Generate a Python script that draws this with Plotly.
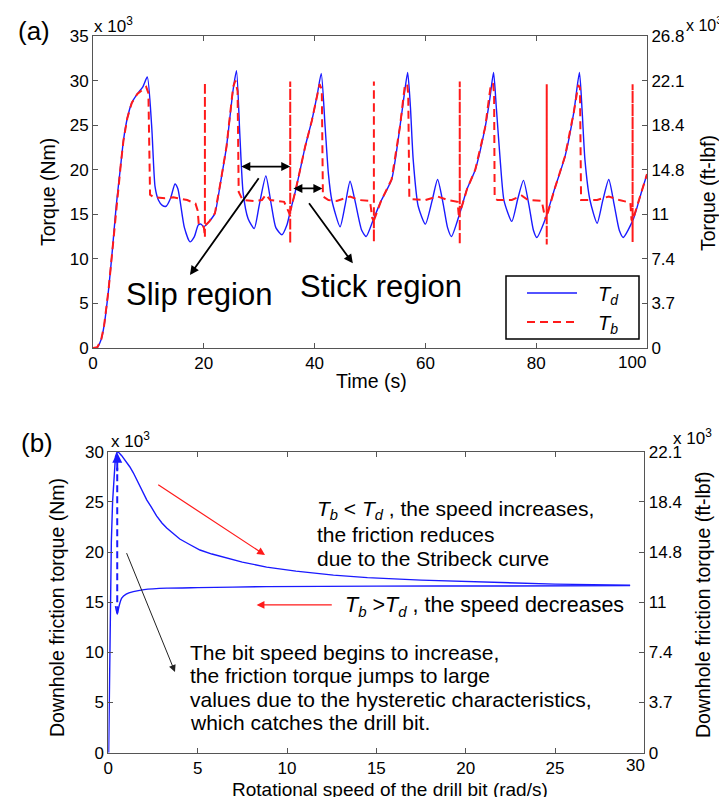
import plotly.graph_objects as go

# The page body adds an 8 px margin on every side, so the figure is made smaller
# (no page overflow / scrollbar) and every reference pixel position is shifted by 8 px.
VW, VH = 727, 805
OFF = 8
W, H = VW - OFF, VH - 2 * OFF
FONT = "Liberation Sans, Arial, Helvetica, sans-serif"
BLUE = "#1a1aff"
RED = "#ff1a1a"
AXC = "#555555"

# ---------------- Panel (a): torque vs time (x10^3 Nm) ----------------
time_td = [0, 0.8, 1.5, 2.0, 2.8, 3.5, 4.2, 5.0, 5.5, 6.2, 7.0, 8.0, 9.0, 9.8,
           10.6, 11.2, 11.8, 12.5, 13.2, 14.0, 14.8, 15.3, 15.7, 16.5, 17.5, 18.3, 19.0, 19.5, 20.0,
           21.0, 22.0, 23.0, 24.1, 25.3, 25.9,
           26.5, 27.1, 28.0, 29.1, 30.0, 31.2, 32.2, 33.0, 34.1, 35.0, 35.6,
           36.5, 37.4, 38.3, 39.5, 40.5, 41.2,
           41.9, 42.5, 43.1, 44.6, 45.5, 46.4, 47.3, 48.5, 49.3, 50.6,
           52.0, 53.9, 55.4, 56.2, 56.8,
           57.3, 57.8, 58.7, 60.0, 61.2, 62.2, 63.2, 64.0, 64.7, 66.2,
           67.5, 69.0, 70.8, 71.6, 72.3,
           72.8, 73.5, 74.2, 75.6, 76.7, 77.7, 78.7, 79.5, 80.1, 81.6,
           83.3, 85.2, 86.8, 87.8,
           88.3, 88.8, 89.7, 91.0, 92.0, 93.1, 94.1, 95.0, 95.7, 97.5, 99.0, 100]
torque_td = [0, 0.1, 1.0, 2.5, 6.5, 11.0, 16.0, 20.5, 23.3, 25.8, 27.5, 28.5, 29.3, 30.4,
             24.8, 18.1, 16.6, 16.0, 15.9, 16.8, 18.4, 17.9, 16.6, 13.5, 11.9, 12.5, 13.8, 13.9, 13.6,
             14.2, 15.1, 18.5, 22.6, 29.0, 31.1,
             24.0, 17.4, 14.5, 13.4, 16.0, 19.3, 16.0, 13.5, 12.7, 13.8, 15.3,
             17.5, 20.0, 22.6, 25.5, 28.5, 30.8,
             24.8, 19.5, 16.6, 13.6, 16.0, 18.7, 16.5, 13.2, 12.5, 14.4,
             16.5, 18.9, 24.8, 28.5, 30.9,
             27.0, 21.1, 15.9, 13.9, 16.5, 18.9, 16.2, 13.5, 12.5, 15.1,
             17.8, 20.0, 24.8, 27.8, 30.9,
             27.0, 21.1, 16.5, 14.2, 16.8, 18.8, 16.0, 13.2, 12.4, 14.4,
             17.8, 21.5, 26.5, 30.9,
             26.5, 21.1, 16.6, 14.0, 16.5, 18.9, 16.0, 13.2, 12.4, 14.4, 17.5, 19.5]

time_tb = [0, 0.8, 1.5, 2.0, 2.8, 3.5, 4.2, 5.0, 5.5, 6.2, 7.0, 8.0, 9.0, 9.6, 10.0,
           10.3, 11.0, 13.0, 14.5, 15.5, 17.0, 18.5, 18.9, 19.1, 20.0,
           20.2, 20.2, 20.2,
           21.0, 22.0, 23.0, 24.1, 25.3, 25.7, 26.1,
           26.3, 27.0, 29.0, 30.5, 31.2, 32.0, 33.2, 34.5, 35.3,
           35.6, 35.6, 35.6, 35.6,
           36.5, 37.4, 38.3, 39.5, 40.5, 40.9, 41.3,
           41.5, 42.5, 44.0, 46.4, 48.0, 50.0, 50.4,
           50.7, 50.7, 50.7, 50.7,
           52.0, 53.9, 55.4, 56.3, 56.7, 56.9,
           57.1, 57.5, 60.0, 62.2, 64.0, 65.8, 66.0,
           66.2, 66.2, 66.2, 66.2,
           67.5, 69.0, 70.8, 71.8, 72.2, 72.4,
           72.5, 73.0, 75.6, 77.4, 78.5, 81.0, 81.6,
           81.9, 81.9, 81.9, 81.9,
           83.3, 85.2, 86.8, 87.6, 87.9,
           88.1, 89.0, 91.0, 93.1, 95.0, 97.0, 97.2,
           97.4, 97.4, 97.4, 97.4,
           99.0, 100]
torque_tb = [0, 0.1, 1.0, 2.5, 6.5, 11.0, 16.0, 20.5, 23.3, 25.8, 27.5, 28.5, 29.0, 29.3, 28.6,
             17.2, 16.9, 16.8, 16.9, 16.8, 16.6, 16.2, 15.4, 13.8, 13.6,
             12.4, 29.8, 13.7,
             14.2, 15.1, 18.5, 22.6, 29.3, 30.0, 28.8,
             17.5, 16.6, 16.5, 16.6, 17.2, 16.6, 16.5, 16.4, 15.3,
             14.8, 11.7, 29.9, 15.3,
             17.5, 20.0, 22.6, 25.5, 28.5, 29.6, 29.0,
             17.0, 16.6, 16.5, 17.0, 16.6, 16.5, 14.6,
             14.2, 11.9, 29.9, 14.3,
             16.5, 18.9, 24.8, 29.5, 29.6, 28.5,
             16.8, 16.7, 16.6, 17.0, 16.6, 16.4, 15.0,
             14.9, 11.6, 29.9, 15.1,
             17.8, 20.0, 24.8, 29.5, 29.7, 28.5,
             16.8, 16.6, 16.6, 17.1, 16.6, 16.5, 14.6,
             14.5, 11.6, 29.6, 14.7,
             17.8, 21.5, 26.5, 29.5, 29.2,
             16.6, 16.6, 16.6, 17.0, 16.6, 16.3, 14.4,
             14.2, 11.9, 29.6, 14.3,
             17.5, 19.5]

a_x_ticks = [0, 20, 40, 60, 80, 100]
a_x_ticktext = ["0", "20", "40", "60", "80", ""]   # last label drawn separately (shifted left)
a_x_last_label = "100"
a_y_ticks = [0, 5, 10, 15, 20, 25, 30, 35]
a_right_ticktext = ["0", "3.7", "7.4", "11", "14.8", "18.4", "22.1", "26.8"]

# annotation arrows of panel (a) (data coordinates)
slip_span_t = [26.5, 35.6]
slip_span_v = 20.35
stick_span_t = [35.9, 41.4]
stick_span_v = 17.9
slip_arrow = dict(tail=(30.1, 19.2), head=(17.5, 8.2))
stick_arrow = dict(tail=(38.8, 16.4), head=(46.9, 9.5))

# ---------------- Panel (b): friction torque vs bit speed ----------------
speed_upper = [0.02, 0.05, 0.08, 0.12, 0.17, 0.24, 0.32, 0.4, 0.5, 0.6, 0.75, 1.0, 1.2, 1.4, 1.6,
               1.8, 2.0, 2.15, 2.4, 2.7, 3.0, 3.27, 3.6, 4.0, 4.5, 5.13, 5.8, 6.5, 7.5, 8.86,
               10.5, 12.6, 14.5, 17.5, 21.5, 25.0, 29.2]
torque_upper = [0, 5.0, 11.0, 17.0, 21.0, 25.0, 28.0, 29.5, 30.0, 29.9, 29.6, 29.0, 28.5, 27.9, 27.2,
                26.5, 25.8, 25.2, 24.5, 23.6, 22.9, 22.4, 21.9, 21.3, 20.8, 20.2, 19.8, 19.45, 19.0, 18.5,
                18.1, 17.7, 17.45, 17.2, 16.95, 16.8, 16.7]
speed_lower = [0.4, 0.5, 0.6, 0.75, 1.0, 1.4, 2.0, 3.27, 5.0, 8.86, 15.0, 22.0, 29.2]
torque_lower = [14.6, 13.8, 14.6, 15.4, 15.8, 16.05, 16.25, 16.4, 16.45, 16.55, 16.6, 16.62, 16.65]
speed_jump = [0.5, 0.5]
torque_jump = [13.9, 28.4]
jump_head = (0.5, 29.9)

b_x_ticks = [0, 5, 10, 15, 20, 25, 30]
b_x_ticktext = ["0", "5", "10", "15", "20", "25", ""]  # last label drawn separately (shifted left)
b_x_last_label = "30"
b_y_ticks = [0, 5, 10, 15, 20, 25, 30]
b_right_ticktext = ["0", "3.7", "7.4", "11", "14.8", "18.4", "22.1"]

red_arrow_1 = dict(tail=(2.71, 26.8), head=(8.77, 19.7))
red_arrow_2 = dict(tail=(12.59, 14.73), head=(8.30, 14.73))
black_arrow = dict(tail=(0.99, 20.04), head=(3.73, 8.05))

legend_labels = ["<i>T</i><sub><i>d</i></sub>", "<i>T</i><sub><i>b</i></sub>"]


def pxx(x):
    return (x - OFF) / W


def pyy(y):
    return 1 - (y - OFF) / H


fig = go.Figure()

fig.add_trace(go.Scatter(x=time_td, y=torque_td, mode="lines", name=legend_labels[0], showlegend=False,
                         line=dict(color=BLUE, width=1.4, shape="spline", smoothing=0.6),
                         xaxis="x", yaxis="y"))
fig.add_trace(go.Scatter(x=time_tb, y=torque_tb, mode="lines", name=legend_labels[1], showlegend=False,
                         line=dict(color=RED, width=2, dash="8px,5px"),
                         xaxis="x", yaxis="y"))
# transparent copy so that the right-hand (ft-lbf) axis of panel (a) is drawn
fig.add_trace(go.Scatter(x=time_td, y=torque_td, mode="lines", showlegend=False, hoverinfo="skip",
                         line=dict(color="rgba(0,0,0,0)", width=0), xaxis="x", yaxis="y3"))

fig.add_trace(go.Scatter(x=speed_upper, y=torque_upper, mode="lines", showlegend=False,
                         line=dict(color=BLUE, width=1.4),
                         xaxis="x2", yaxis="y2"))
fig.add_trace(go.Scatter(x=speed_lower, y=torque_lower, mode="lines", showlegend=False,
                         line=dict(color=BLUE, width=1.4, shape="spline", smoothing=0.5),
                         xaxis="x2", yaxis="y2"))
fig.add_trace(go.Scatter(x=speed_jump, y=torque_jump, mode="lines", showlegend=False,
                         line=dict(color=BLUE, width=2, dash="7px,4px"),
                         xaxis="x2", yaxis="y2"))
# transparent copy so that the right-hand (ft-lbf) axis of panel (b) is drawn
fig.add_trace(go.Scatter(x=speed_lower, y=torque_lower, mode="lines", showlegend=False, hoverinfo="skip",
                         line=dict(color="rgba(0,0,0,0)", width=0), xaxis="x2", yaxis="y4"))

axis_common = dict(showline=True, linecolor=AXC, linewidth=1, ticks="inside", ticklen=5,
                   tickcolor=AXC, showgrid=False, zeroline=False, automargin=False,
                   tickfont=dict(family=FONT, size=17, color="black"))

xa_dom = [pxx(93), pxx(647)]
ya_dom = [pyy(348), pyy(36)]
xb_dom = [pxx(108.3), pxx(644.4)]
yb_dom = [pyy(752.7), pyy(451.7)]

fig.update_layout(
    width=W, height=H, autosize=False,
    margin=dict(l=0, r=0, t=0, b=0, autoexpand=False),
    paper_bgcolor="white", plot_bgcolor="white",
    font=dict(family=FONT, color="black"),
    showlegend=False,
    xaxis=dict(axis_common, domain=xa_dom, range=[0, 100], tickvals=a_x_ticks, ticktext=a_x_ticktext,
               anchor="y", mirror="ticks"),
    yaxis=dict(axis_common, domain=ya_dom, range=[0, 35], tickvals=a_y_ticks, anchor="x"),
    yaxis3=dict(axis_common, overlaying="y", side="right", anchor="x", range=[0, 35],
                tickvals=a_y_ticks, ticktext=a_right_ticktext),
    xaxis2=dict(axis_common, domain=xb_dom, range=[0, 30], tickvals=b_x_ticks, ticktext=b_x_ticktext,
                anchor="y2", mirror="ticks"),
    yaxis2=dict(axis_common, domain=yb_dom, range=[0, 30], tickvals=b_y_ticks, anchor="x2"),
    yaxis4=dict(axis_common, overlaying="y2", side="right", anchor="x2", range=[0, 30],
                tickvals=b_y_ticks, ticktext=b_right_ticktext),
)

# legend box of panel (a), drawn in paper coordinates
shapes = [
    dict(type="rect", xref="paper", yref="paper", x0=pxx(506), x1=pxx(639), y0=pyy(339), y1=pyy(276),
         line=dict(color="black", width=1.5), fillcolor="white", layer="above"),
    dict(type="line", xref="paper", yref="paper", x0=pxx(527), x1=pxx(577), y0=pyy(293), y1=pyy(293),
         line=dict(color=BLUE, width=1.4), layer="above"),
    dict(type="line", xref="paper", yref="paper", x0=pxx(527), x1=pxx(577), y0=pyy(322), y1=pyy(322),
         line=dict(color=RED, width=2, dash="8px,5px"), layer="above"),
]

ann = []


def text(x, y, s, size, xanchor="center", yanchor="middle", angle=0):
    ann.append(dict(x=pxx(x), y=pyy(y), xref="paper", yref="paper", text=s, showarrow=False,
                    xanchor=xanchor, yanchor=yanchor, textangle=angle,
                    font=dict(family=FONT, size=size, color="black")))


text(596, 295, legend_labels[0], 20, xanchor="left")
text(596, 324, legend_labels[1], 20, xanchor="left")

text(632, 362, a_x_last_label, 17)
text(635, 765, b_x_last_label, 17)

text(34, 31, "(a)", 26)
text(37, 443, "(b)", 26)
text(92, 25, "x 10<sup>3</sup>", 17, xanchor="left")
text(684, 24, "x 10<sup>3</sup>", 16, xanchor="left")
text(109, 440, "x 10<sup>3</sup>", 17, xanchor="left")
text(671, 437, "x 10<sup>3</sup>", 17, xanchor="left")
text(48, 192, "Torque (Nm)", 19.5, angle=-90)
text(371, 381, "Time (s)", 19.5)
text(708, 193, "Torque (ft-lbf)", 19.5, angle=-90)
text(57, 608, "Downhole friction torque (Nm)", 19.5, angle=-90)
text(703, 605, "Downhole friction torque (ft-lbf)", 19.5, angle=-90)
text(390, 789, "Rotational speed of the drill bit (rad/s)", 19)
text(199, 294, "Slip region", 31)
text(381, 286, "Stick region", 31)

upper_lines = ["<i>T</i><sub><i>b</i></sub> &lt; <i>T</i><sub><i>d</i></sub> , the speed increases,",
               "the friction reduces", "due to the Stribeck curve"]
upper_y = [510, 534.5, 558]
for s, yy in zip(upper_lines, upper_y):
    text(315, yy, s, 21, xanchor="left")
text(343, 606, "<i>T</i><sub><i>b</i></sub> &gt;<i>T</i><sub><i>d</i></sub> , the speed decreases", 21.5, xanchor="left")
lower_lines = ["The bit speed begins to increase,", "the friction torque jumps to large",
               "values due to the hysteretic characteristics,", "which catches the drill bit."]
for i, s in enumerate(lower_lines):
    text(188, 652 + 23.5 * i, s, 21, xanchor="left")


def arrow(tail, head, xref, yref, color, width, head_style=2, size=1.0, both=False):
    ann.append(dict(x=head[0], y=head[1], ax=tail[0], ay=tail[1], xref=xref, yref=yref,
                    axref=xref, ayref=yref, showarrow=True, text="", arrowcolor=color,
                    arrowwidth=width, arrowhead=head_style, arrowsize=size,
                    arrowside="end+start" if both else "end", startarrowhead=head_style,
                    startarrowsize=size))


arrow((slip_span_t[0], slip_span_v), (slip_span_t[1], slip_span_v), "x", "y", "black", 1.8, 2, 1.0, both=True)
arrow((stick_span_t[0], stick_span_v), (stick_span_t[1], stick_span_v), "x", "y", "black", 1.8, 2, 1.0, both=True)
arrow(slip_arrow["tail"], slip_arrow["head"], "x", "y", "black", 1.8, 2, 1.0)
arrow(stick_arrow["tail"], stick_arrow["head"], "x", "y", "black", 1.8, 2, 1.0)
arrow(red_arrow_1["tail"], red_arrow_1["head"], "x2", "y2", RED, 1.2, 2, 1.3)
arrow(red_arrow_2["tail"], red_arrow_2["head"], "x2", "y2", RED, 1.2, 2, 1.3)
arrow(black_arrow["tail"], black_arrow["head"], "x2", "y2", "#222222", 1.0, 2, 1.4)
arrow((jump_head[0], torque_jump[1] - 0.5), jump_head, "x2", "y2", BLUE, 2, 2, 1.0)

fig.update_layout(annotations=ann, shapes=shapes)
fig.write_html("out.html")
